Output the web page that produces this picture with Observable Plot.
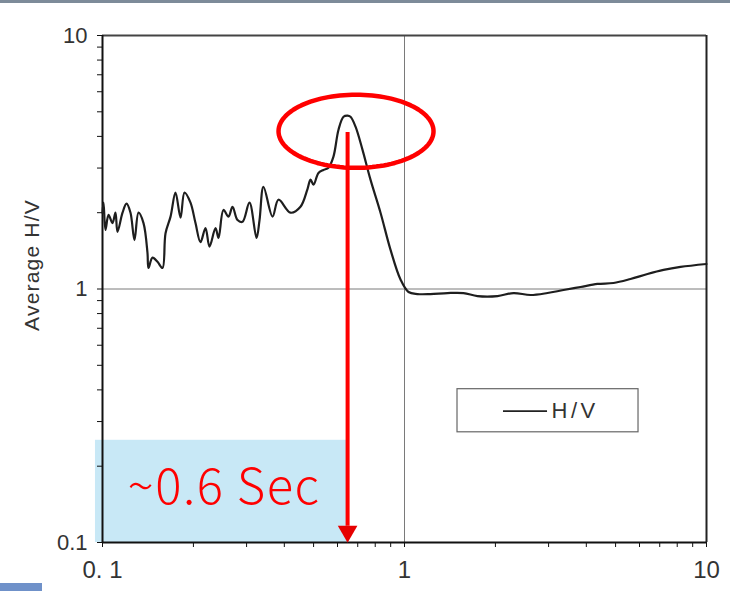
<!DOCTYPE html>
<html>
<head>
<meta charset="utf-8">
<script src="https://cdn.jsdelivr.net/npm/d3@7"></script>
<script src="https://cdn.jsdelivr.net/npm/@observablehq/plot@0.6"></script>
<style>
  html, body { margin: 0; padding: 0; background: #fff; }
  #wrap { position: relative; width: 730px; height: 591px; overflow: hidden; }
  #topbar { position: absolute; left: 0; top: 0; width: 730px; height: 3px; background: #7d8b99; }
  #corner { position: absolute; left: 0; top: 583px; width: 42px; height: 8px; background: #6f91c9; }
  #chart { position: absolute; left: 0; top: 0; }
</style>
</head>
<body>
<div id="wrap">
  <div id="chart"></div>
  <div id="topbar"></div>
  <div id="corner"></div>
</div>
<script>
// Period (s) and average H/V ratio
const periods = [0.100, 0.1008, 0.1023, 0.1047, 0.1079, 0.1104, 0.1121, 0.1165, 0.1201, 0.1238,
  0.1276, 0.1316, 0.1367, 0.1409, 0.1420, 0.1464, 0.1521, 0.1580, 0.1617, 0.1680,
  0.1745, 0.1813, 0.1869, 0.1956, 0.2032, 0.2111, 0.2193, 0.2261, 0.2367, 0.2422,
  0.2515, 0.2613, 0.2695, 0.2800, 0.2908, 0.3067, 0.3236, 0.3311, 0.3413, 0.3656,
  0.3826, 0.4193, 0.4524, 0.4773, 0.4884, 0.4997, 0.5190, 0.5392, 0.5601, 0.5818,
  0.6046, 0.6281, 0.6476, 0.6626, 0.6884, 0.7261, 0.7716, 0.8329, 0.8986, 0.9700,
  1.031, 1.104, 1.219, 1.388, 1.568, 1.745, 2.032, 2.296, 2.613, 2.975,
  3.362, 3.826, 4.356, 4.921, 5.601, 6.377, 7.206, 8.202, 10.0];
const hvRatio = [2.00, 2.19, 1.71, 1.96, 1.82, 2.00, 1.68, 2.00, 2.17, 2.00,
  1.56, 2.00, 1.82, 1.39, 1.21, 1.33, 1.28, 1.21, 1.66, 1.93,
  2.40, 1.91, 2.40, 2.19, 1.82, 1.53, 1.74, 1.47, 1.74, 1.59,
  2.05, 1.93, 2.11, 1.87, 1.84, 2.19, 1.59, 1.87, 2.53, 1.93,
  2.25, 2.00, 2.11, 2.48, 2.70, 2.58, 2.87, 2.95, 3.01, 3.33,
  4.25, 4.78, 4.83, 4.78, 4.37, 3.54, 2.70, 2.00, 1.43, 1.09,
  0.973, 0.955, 0.955, 0.964, 0.964, 0.938, 0.938, 0.964, 0.947, 0.964,
  0.991, 1.018, 1.047, 1.056, 1.095, 1.146, 1.189, 1.222, 1.255];

const majorTicks = [0.1, 1, 10];
const xTickLabels = ["0. 1", "1", "10"];
const yTickLabels = ["0.1", "1", "10"];
const seriesName = "H/V";
const yTitle = "Average H/V";
const annotationText = "~0.6 Sec";
const peakPeriod = 0.648;   // period marked by the red arrow
const peakTop = 4.14;       // where the arrow starts

const data = periods.map((p, i) => ({period: p, hv: hvRatio[i]}));
const minorTicks = [];
for (const base of [0.1, 1]) for (let k = 1; k <= 9; k++) minorTicks.push(+(base * k).toPrecision(3));
minorTicks.push(10);

// ellipse around the peak, drawn in log space
const ecx = Math.log10(0.691), ecy = Math.log10(4.19), erx = 0.2566, ery = 0.1443;
const ellipse = d3.range(0, 361, 3).map(a => {
  const t = a * Math.PI / 180;
  return {x: 10 ** (ecx + erx * Math.cos(t)), y: 10 ** (ecy + ery * Math.sin(t))};
});

const chart = Plot.plot({
  width: 730,
  height: 591,
  marginLeft: 102,
  marginRight: 24,
  marginTop: 35,
  marginBottom: 49,
  style: {fontFamily: "'Liberation Sans', Arial, sans-serif", background: "transparent", color: "#222"},
  x: {type: "log", domain: [0.1, 10]},
  y: {type: "log", domain: [0.1, 10]},
  marks: [
    // highlighted band
    Plot.rect([0], {x1: 0.0948, x2: 0.648, y1: 0.1, y2: 0.253, fill: "#9bd6ef", fillOpacity: 0.55}),
    // grid lines at 1
    Plot.ruleX([1], {stroke: "#7a7a7a", strokeWidth: 1}),
    Plot.ruleY([1], {stroke: "#7a7a7a", strokeWidth: 1}),
    // top and right frame
    Plot.ruleY([10], {stroke: "#444", strokeWidth: 2}),
    Plot.ruleX([10], {stroke: "#222", strokeWidth: 2}),
    // minor ticks
    Plot.axisX({ticks: minorTicks, tickSize: 5, tickFormat: () => "", stroke: "#111"}),
    Plot.axisY({ticks: minorTicks, tickSize: 5, tickFormat: () => "", stroke: "#111", label: null}),
    // major labels
    Plot.axisX({ticks: majorTicks, tickSize: 0, tickPadding: 18, fontSize: 24,
      tickFormat: d => xTickLabels[majorTicks.indexOf(d)], label: null, fill: "#333"}),
    Plot.axisY({ticks: majorTicks, tickSize: 0, tickPadding: 15, fontSize: 22,
      tickFormat: d => yTickLabels[majorTicks.indexOf(d)], label: null, fill: "#333"}),
    // y axis title
    Plot.text([yTitle], {frameAnchor: "left", y: 1.244, dx: -70, rotate: -90, textAnchor: "middle",
      fontSize: 21, fill: "#333"}),
    // axis lines
    Plot.ruleX([0.1], {stroke: "#111", strokeWidth: 2}),
    Plot.ruleY([0.1], {stroke: "#111", strokeWidth: 2}),
    // data line
    Plot.line(data, {x: "period", y: "hv", curve: "catmull-rom", stroke: "#1e1e1e", strokeWidth: 2.2}),
    // legend
    Plot.rect([0], {x1: 1.498, x2: 5.955, y1: 0.2721, y2: 0.4025, fill: "white", stroke: "#666", strokeWidth: 1.2}),
    Plot.ruleY([0.3295], {x1: 2.127, x2: 2.976, stroke: "#222", strokeWidth: 1.8}),
    Plot.text([seriesName], {x: 3.068, y: 0.3295, textAnchor: "start", fontSize: 22, fill: "#333"}),
    // annotation
    Plot.line(ellipse, {x: "x", y: "y", stroke: "#ff0000", strokeWidth: 4.5}),
    Plot.ruleX([peakPeriod], {y1: peakTop, y2: 0.116, stroke: "#ff0000", strokeWidth: 4}),
    Plot.dot([peakPeriod], {x: d => d, y: 0.1105, symbol: "triangle", r: 7.3, rotate: 180, fill: "#e60000", stroke: "none"}),
    Plot.text([annotationText], {x: 0.121, y: 0.1634, textAnchor: "start", fontSize: 49, fill: "#ff0000",
      fontFamily: "'Noto Sans CJK JP', 'Noto Sans', sans-serif", fontWeight: 300})
  ]
});
// widen a few labels to match the wider lettering of the original
const spacing = new Map([[yTitle, "1.2px"], [seriesName, "3.5px"], [annotationText, "1.5px"]]);
d3.select(chart).selectAll("text").each(function () {
  const s = spacing.get(this.textContent);
  if (s) this.style.letterSpacing = s;
});
document.getElementById("chart").appendChild(chart);
</script>
</body>
</html>
